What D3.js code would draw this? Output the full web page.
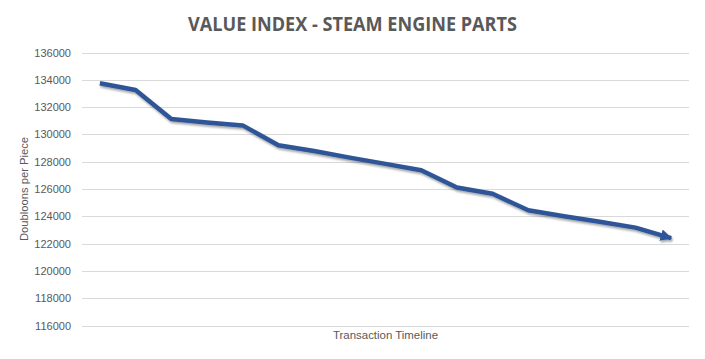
<!DOCTYPE html>
<html><head><meta charset="utf-8">
<script src="https://cdn.jsdelivr.net/npm/d3@7"></script>
<style>body{margin:0;background:#fff}svg{display:block}</style>
</head><body>
<script>
const title = "VALUE INDEX - STEAM ENGINE PARTS";
const xTitle = "Transaction Timeline";
const yTitle = "Doubloons per Piece";
const categories = ["T1","T2","T3","T4","T5","T6","T7","T8","T9","T10","T11","T12","T13","T14","T15","T16","T17"];
const values = [133750,133250,131120,130880,130660,129210,128780,128300,127840,127380,126110,125650,124440,124010,123600,123170,122400];
const yTicks = [116000,118000,120000,122000,124000,126000,128000,130000,132000,134000,136000];

const W = 705, H = 359;
const m = {left:82, right:16, top:52.5, bottom:33.5};
const svg = d3.select("body").append("svg").attr("width",W).attr("height",H);
const defs = svg.append("defs");
const f = defs.append("filter").attr("id","sh").attr("x","-10%").attr("y","-10%").attr("width","120%").attr("height","140%");
f.append("feDropShadow").attr("dx",1).attr("dy",2).attr("stdDeviation",1.2).attr("flood-color","#000").attr("flood-opacity",0.35);
defs.append("marker").attr("id","arr").attr("viewBox","0 0 10 10").attr("refX",9).attr("refY",5)
  .attr("markerWidth",2.6).attr("markerHeight",2.6).attr("orient","auto").attr("markerUnits","strokeWidth")
  .append("path").attr("d","M0,0 L10,5 L0,10 Z").attr("fill","#2F5597");

const x = d3.scalePoint().domain(categories).range([m.left, W-m.right]).padding(0.5);
const y = d3.scaleLinear().domain([116000,136000]).range([H-m.bottom, m.top]);

const font = "'Liberation Sans', Arial, sans-serif";
const txt = "#595959";

svg.append("g").selectAll("line").data(yTicks).join("line")
  .attr("x1",m.left).attr("x2",W-m.right).attr("y1",d=>Math.round(y(d))+0.5).attr("y2",d=>Math.round(y(d))+0.5)
  .attr("stroke","#d9d9d9").attr("stroke-width",1);

const ya = svg.append("g").attr("transform",`translate(${m.left},0)`)
  .call(d3.axisLeft(y).tickValues(yTicks).tickFormat(d3.format("d")).tickSize(0).tickPadding(11));
ya.select(".domain").remove();
ya.selectAll("text").attr("fill",txt).attr("font-family",font).attr("font-size",11);

svg.append("text").attr("x",W/2).attr("y",31).attr("text-anchor","middle")
  .attr("font-family","'Open Sans', sans-serif").attr("font-weight","bold").attr("font-size",20)
  .attr("fill",txt).attr("textLength",329).attr("lengthAdjust","spacingAndGlyphs").text(title);

svg.append("text").attr("x",(m.left+W-m.right)/2).attr("y",339).attr("text-anchor","middle")
  .attr("font-family",font).attr("font-size",11).attr("fill",txt)
  .attr("textLength",105).attr("lengthAdjust","spacingAndGlyphs").text(xTitle);

svg.append("text").attr("transform",`translate(28,189) rotate(-90)`).attr("text-anchor","middle")
  .attr("font-family",font).attr("font-size",11).attr("fill",txt)
  .attr("textLength",104).attr("lengthAdjust","spacingAndGlyphs").text(yTitle);

const line = d3.line().x((d,i)=>x(categories[i])).y(d=>y(d));
svg.append("path").datum(values).attr("d",line).attr("fill","none")
  .attr("stroke","#2F5597").attr("stroke-width",4.5).attr("stroke-linejoin","round").attr("stroke-linecap","butt")
  .attr("marker-end","url(#arr)").attr("filter","url(#sh)");
</script>
</body></html>
